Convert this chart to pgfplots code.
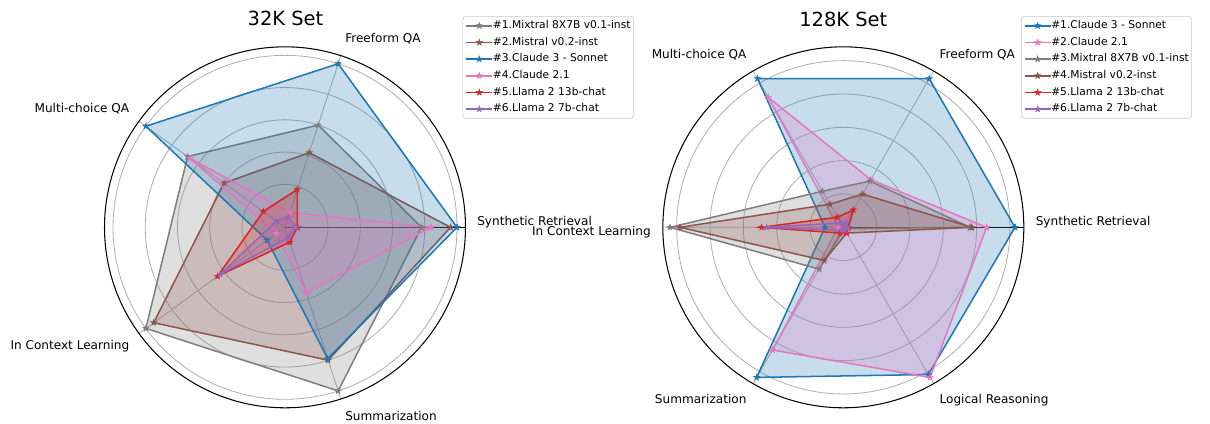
\documentclass[border=0pt]{standalone}
\usepackage{fontspec}
\setmainfont{DejaVu Sans}
\usepackage{pgfplots}
\usepackage{pgfplotstable}
\pgfplotsset{compat=1.18}
\usepgfplotslibrary{polar}

\definecolor{cgray}{HTML}{7F7F7F}
\definecolor{cbrown}{HTML}{8C564B}
\definecolor{cblue}{HTML}{1F77B4}
\definecolor{cpink}{HTML}{E377C2}
\definecolor{cred}{HTML}{D62728}
\definecolor{cpurple}{HTML}{9467BD}
\definecolor{cgrid}{HTML}{B0B0B0}

\pgfdeclareplotmark{fstar}{%
  \pgfpathmoveto{\pgfpointpolar{90}{\pgfplotmarksize}}%
  \pgfpathlineto{\pgfpointpolar{126}{0.4\pgfplotmarksize}}%
  \pgfpathlineto{\pgfpointpolar{162}{\pgfplotmarksize}}%
  \pgfpathlineto{\pgfpointpolar{198}{0.4\pgfplotmarksize}}%
  \pgfpathlineto{\pgfpointpolar{234}{\pgfplotmarksize}}%
  \pgfpathlineto{\pgfpointpolar{270}{0.4\pgfplotmarksize}}%
  \pgfpathlineto{\pgfpointpolar{306}{\pgfplotmarksize}}%
  \pgfpathlineto{\pgfpointpolar{342}{0.4\pgfplotmarksize}}%
  \pgfpathlineto{\pgfpointpolar{18}{\pgfplotmarksize}}%
  \pgfpathlineto{\pgfpointpolar{54}{0.4\pgfplotmarksize}}%
  \pgfpathclose
  \pgfusepathqfillstroke
}

% 32K set: Synthetic Retrieval, Freeform QA, Multi-choice QA, In Context Learning, Summarization
\pgfplotstableread{
angle mixtral mistral claudeiii claudeii llamaxiii llamavii
0     0.78    0.96    1.00      0.84     0.01      0.00
72    0.60    0.42    1.00      0.03     0.18      0.00
144   0.68    0.40    1.00      0.66     0.10      0.00
216   1.00    0.94    0.07      0.00     0.45      0.43
288   1.00    0.80    0.79      0.36     0.03      0.00
360   0.78    0.96    1.00      0.84     0.01      0.00
}\tabA

% 128K set: Synthetic Retrieval, Freeform QA, Multi-choice QA, In Context Learning, Summarization, Logical Reasoning
\pgfplotstableread{
angle claudeiii claudeii mixtral mistral llamaxiii llamavii
0     1.03      0.86     0.76    0.77    0.03      0.025
60    1.03      0.33     0.32    0.23    0.12      0.03
120   1.03      0.90     0.25    0.16    0.07      0.03
180   0.11      0.03     1.04    0.98    0.49      0.46
240   1.04      0.85     0.29    0.23    0.04      0.02
300   1.02      1.04     0.01    0.04    0.04      0.02
360   1.03      0.86     0.76    0.77    0.03      0.025
}\tabB

\newcommand{\series}[3]{%
  \addplot[draw=none, fill=#3, fill opacity=0.25, forget plot] table[x=angle, y=#2] {#1};
  \addplot[#3, line width=1.1pt, mark=fstar, mark size=2.4pt,
    mark options={solid, fill=#3, line width=0.3pt}] table[x=angle, y=#2] {#1};
}

\pgfplotsset{
  radar/.style={
    scale only axis, width=259.9pt, height=259.9pt,
    ymin=0,
    xticklabels={}, yticklabels={},
    grid=major,
    major grid style={cgrid, line width=0.6pt},
    axis line style={black, line width=0.75pt},
    major tick length=0pt,
    legend cell align=left,
    legend image code/.code={\draw[mark repeat=2,mark phase=2,##1] plot coordinates {(0pt,0pt) (9.25pt,0pt) (18.5pt,0pt)};},
    legend style={at={(axis description cs:0.9922,1.0845)}, anchor=north west,
      draw={cgrid!70}, rounded corners=2pt, inner xsep=2pt, inner ysep=3pt,
      font=\fontsize{7.7}{9}\selectfont, row sep=4.8pt,
      nodes={inner sep=0pt, text height=5.6pt, text depth=1.6pt},
      /tikz/every even column/.append style={column sep=6.7pt}},
  }
}

\begin{document}
\begin{tikzpicture}
\useasboundingbox (0pt,0pt) rectangle (871.2pt,-305.28pt);

\begin{polaraxis}[radar,
  at={(205.2pt,-163.66pt)}, anchor=center,
  ymax=1.1194,
  xtick={0,72,144,216,288},
  ytick={0.2667,0.4667,0.6667,0.8667,1.0667},
  y filter/.expression={y+0.0667},
]
\series{\tabA}{mixtral}{cgray}
\addlegendentry{\#1.Mixtral 8X7B v0.1-inst}
\series{\tabA}{mistral}{cbrown}
\addlegendentry{\#2.Mistral v0.2-inst}
\series{\tabA}{claudeiii}{cblue}
\addlegendentry{\#3.Claude 3 - Sonnet}
\series{\tabA}{claudeii}{cpink}
\addlegendentry{\#4.Claude 2.1}
\series{\tabA}{llamaxiii}{cred}
\addlegendentry{\#5.Llama 2 13b-chat}
\series{\tabA}{llamavii}{cpurple}
\addlegendentry{\#6.Llama 2 7b-chat}
\end{polaraxis}

\begin{polaraxis}[radar,
  at={(607.2pt,-163.66pt)}, anchor=center,
  ymax=1.083,
  xtick={0,60,120,180,240,300},
  ytick={0.2,0.4,0.6,0.8,1.0},
]
\series{\tabB}{claudeiii}{cblue}
\addlegendentry{\#1.Claude 3 - Sonnet}
\series{\tabB}{claudeii}{cpink}
\addlegendentry{\#2.Claude 2.1}
\series{\tabB}{mixtral}{cgray}
\addlegendentry{\#3.Mixtral 8X7B v0.1-inst}
\series{\tabB}{mistral}{cbrown}
\addlegendentry{\#4.Mistral v0.2-inst}
\series{\tabB}{llamaxiii}{cred}
\addlegendentry{\#5.Llama 2 13b-chat}
\series{\tabB}{llamavii}{cpurple}
\addlegendentry{\#6.Llama 2 7b-chat}
\end{polaraxis}

\begin{scope}[every node/.style={inner sep=0pt, font=\fontsize{8.7}{10}\selectfont}]
% left chart labels
\node[anchor=base west] at (343.44pt,-162.0pt) {Synthetic Retrieval};
\node[anchor=base west] at (248.4pt,-30.6pt) {Freeform QA};
\node[anchor=base east] at (93.24pt,-80.64pt) {Multi-choice QA};
\node[anchor=base east] at (93.24pt,-251.28pt) {In Context Learning};
\node[anchor=base west] at (248.4pt,-302.4pt) {Summarization};
% right chart labels
\node[anchor=base west] at (745.56pt,-162.0pt) {Synthetic Retrieval};
\node[anchor=base west] at (676.3pt,-42.26pt) {Freeform QA};
\node[anchor=base east] at (537.62pt,-42.26pt) {Multi-choice QA};
\node[anchor=base east] at (468.72pt,-169.2pt) {In Context Learning};
\node[anchor=base east] at (537.62pt,-290.38pt) {Summarization};
\node[anchor=base west] at (676.3pt,-290.38pt) {Logical Reasoning};
\end{scope}
\node[anchor=base, inner sep=0pt, font=\fontsize{14}{16}\selectfont] at (205.56pt,-18.0pt) {32K Set};
\node[anchor=base, inner sep=0pt, font=\fontsize{14}{16}\selectfont] at (607.2pt,-18.72pt) {128K Set};
\end{tikzpicture}
\end{document}
